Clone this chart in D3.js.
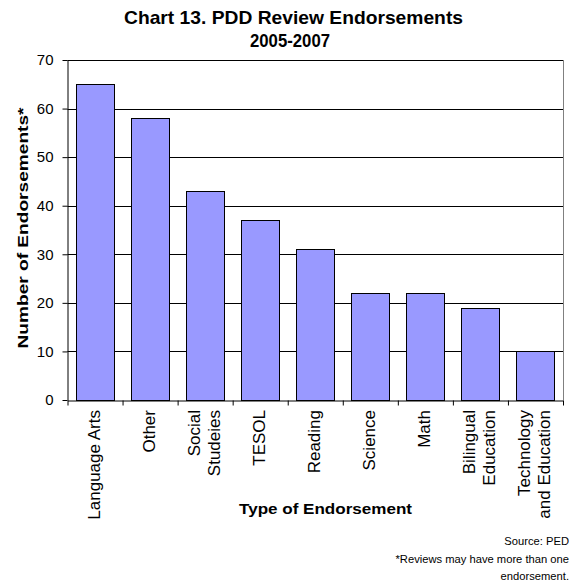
<!DOCTYPE html>
<html>
<head>
<meta charset="utf-8">
<script src="https://cdn.jsdelivr.net/npm/d3@7"></script>
<style>
  html, body { margin: 0; padding: 0; background: #fff; }
  svg { display: block; font-family: "Liberation Sans", Arial, sans-serif; }
</style>
</head>
<body>
<div id="chart"></div>
<script>
// ============ Data ============
const categories = ['Language Arts', 'Other', 'Social\nStudeies', 'TESOL', 'Reading',
  'Science', 'Math', 'Bilingual\nEducation', 'Technology\nand Education'];
const endorsements = [65, 58, 43, 37, 31, 22, 22, 19, 10];
const yTicks = [0, 10, 20, 30, 40, 50, 60, 70];
const titleLines = ['Chart 13. PDD Review Endorsements', '2005-2007'];
const notes = ['Source: PED', '*Reviews may have more than one', 'endorsement.'];

// ============ Layout ============
const W = 574, H = 584;
const plot = { left: 67.5, right: 563, top: 60, bottom: 400 };

const svg = d3.select('#chart').append('svg')
  .attr('width', W).attr('height', H);

const x = d3.scaleBand()
  .domain(categories)
  .range([plot.left, plot.right])
  .paddingInner(0.31)
  .paddingOuter(0.155);

const y = d3.scaleLinear()
  .domain([0, 70])
  .range([plot.bottom, plot.top]);

// boundaries between categories (Excel-style ticks)
const xEdge = d3.scaleLinear().domain([0, categories.length]).range([plot.left, plot.right]);

// ── Gridlines ──
svg.append('g').selectAll('line')
  .data(yTicks.filter(d => d > 0)).enter().append('line')
  .attr('x1', plot.left).attr('x2', plot.right)
  .attr('y1', d => Math.round(y(d)) + 0.5).attr('y2', d => Math.round(y(d)) + 0.5)
  .attr('stroke', '#000').attr('stroke-width', 1);

// right border of plot area
svg.append('line')
  .attr('x1', plot.right + 0.5).attr('x2', plot.right + 0.5)
  .attr('y1', plot.top).attr('y2', plot.bottom)
  .attr('stroke', '#808080').attr('stroke-width', 1);

// ── Bars ──
svg.append('g').selectAll('rect')
  .data(endorsements).enter().append('rect')
  .attr('x', (d, i) => Math.round(x(categories[i])) + 0.5)
  .attr('y', d => Math.round(y(d)) + 0.5)
  .attr('width', Math.round(x.bandwidth()))
  .attr('height', d => Math.round(y(0)) - Math.round(y(d)))
  .attr('fill', '#9999FF')
  .attr('stroke', '#000')
  .attr('stroke-width', 1);

// ── Y axis ──
const yAxis = svg.append('g')
  .attr('transform', `translate(${plot.left},0)`)
  .call(d3.axisLeft(y).tickValues(yTicks).tickSize(5).tickSizeOuter(0).tickPadding(9));
yAxis.select('.domain').attr('stroke', '#000');
yAxis.selectAll('.tick line').attr('stroke', '#000');
yAxis.selectAll('.tick text')
  .attr('font-size', 15)
  .attr('font-family', '"Liberation Sans", Arial, sans-serif')
  .attr('fill', '#000');

// ── X axis (ticks at category edges) ──
const xAxis = svg.append('g')
  .attr('transform', `translate(0,${plot.bottom + 0.5})`)
  .call(d3.axisBottom(xEdge).tickValues(d3.range(categories.length + 1))
    .tickFormat('').tickSize(5).tickSizeOuter(0));
xAxis.select('.domain').attr('stroke', '#000');
xAxis.selectAll('.tick line').attr('stroke', '#000');

// ── Category labels (rotated) ──
const lblGroup = svg.append('g');
categories.forEach(cat => {
  const lines = cat.split('\n');
  const cx = x(cat) + x.bandwidth() / 2;
  lines.forEach((ln, j) => {
    const off = (j - (lines.length - 1) / 2) * 20;
    lblGroup.append('text')
      .attr('transform', `translate(${cx + off + 5},${plot.bottom + 10}) rotate(-90)`)
      .attr('text-anchor', 'end')
      .attr('font-size', 17)
      .attr('fill', '#000')
      .text(ln);
  });
});

// ── Titles ──
svg.append('text')
  .attr('x', 293.5).attr('y', 24)
  .attr('text-anchor', 'middle')
  .attr('font-size', 18.5).attr('font-weight', 'bold')
  .attr('textLength', 339).attr('lengthAdjust', 'spacingAndGlyphs')
  .text(titleLines[0]);
svg.append('text')
  .attr('x', 290).attr('y', 47)
  .attr('text-anchor', 'middle')
  .attr('font-size', 18.5).attr('font-weight', 'bold')
  .attr('textLength', 80).attr('lengthAdjust', 'spacingAndGlyphs')
  .text(titleLines[1]);

// axis titles
svg.append('text')
  .attr('transform', 'translate(28,228) rotate(-90)')
  .attr('text-anchor', 'middle')
  .attr('font-size', 15).attr('font-weight', 'bold')
  .attr('textLength', 241).attr('lengthAdjust', 'spacingAndGlyphs')
  .text('Number of Endorsements*');

svg.append('text')
  .attr('x', 325.5).attr('y', 514)
  .attr('text-anchor', 'middle')
  .attr('font-size', 15.5).attr('font-weight', 'bold')
  .attr('textLength', 173).attr('lengthAdjust', 'spacingAndGlyphs')
  .text('Type of Endorsement');

// ── Footnotes ──
const noteY = [545, 563, 580];
notes.forEach((n, i) => {
  svg.append('text')
    .attr('x', 569).attr('y', noteY[i])
    .attr('text-anchor', 'end')
    .attr('font-size', 11.2)
    .text(n);
});
</script>
</body>
</html>
